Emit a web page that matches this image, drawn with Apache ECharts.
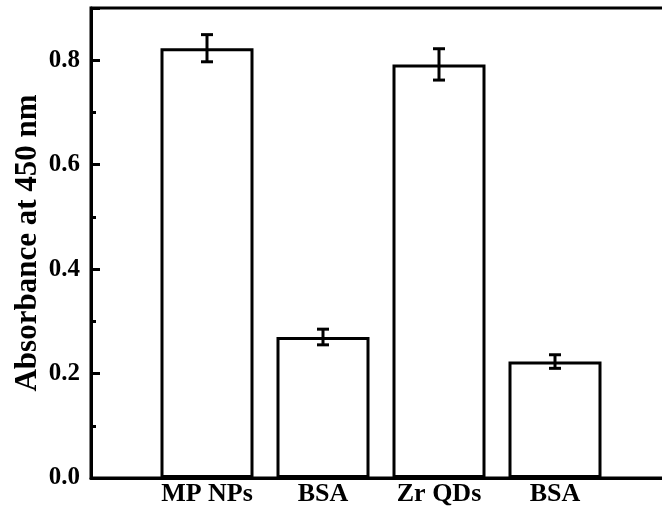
<!DOCTYPE html>
<html>
<head>
<meta charset="utf-8">
<script src="https://cdn.jsdelivr.net/npm/echarts@6/dist/echarts.min.js"></script>
<style>html,body{margin:0;padding:0;background:#fff;}#c{width:662px;height:506px;}</style>
</head>
<body>
<div id="c"></div>
<script>
var categories = ['MP NPs', 'BSA', 'Zr QDs', 'BSA'];
var values = [0.823, 0.270, 0.792, 0.223];
var errors = [0.026, 0.015, 0.030, 0.013];
var yMin = 0, yMax = 0.9, yStep = 0.2;

var axisCats = [''].concat(categories).concat(['']);
var barData = ['-'].concat(values).concat(['-']);
var errData = values.map(function (v, i) { return [i + 1, v, errors[i]]; });

var font = 'Liberation Serif';
var chart = echarts.init(document.getElementById('c'));
chart.setOption({
  animation: false,
  grid: { left: 91, top: 8, bottom: 28, right: -9, containLabel: false, outerBoundsMode: 'none',
    show: true, borderColor: '#000', borderWidth: 3, backgroundColor: 'transparent' },
  xAxis: {
    type: 'category', data: axisCats, boundaryGap: false,
    axisLine: { lineStyle: { color: '#000', width: 3 } },
    axisTick: { show: false },
    axisLabel: { color: '#000', fontFamily: font, fontWeight: 'bold', fontSize: 26, margin: 3, interval: 0 },
    splitLine: { show: false }
  },
  yAxis: {
    type: 'value', min: yMin, max: yMax, interval: yStep,
    name: 'Absorbance at 450 nm', nameLocation: 'middle', nameGap: 48, nameMoveOverlap: false,
    nameTextStyle: { color: '#000', fontFamily: font, fontWeight: 'bold', fontSize: 31 },
    axisLine: { show: true, lineStyle: { color: '#000', width: 3 } },
    axisTick: { show: true, inside: true, length: 9, lineStyle: { color: '#000', width: 3 } },
    minorTick: { show: true, splitNumber: 2, length: 5, lineStyle: { color: '#000', width: 3 } },
    axisLabel: { color: '#000', fontFamily: font, fontWeight: 'bold', fontSize: 25, margin: 11, showMaxLabel: false,
      formatter: function (v) { return v.toFixed(1); } },
    splitLine: { show: false }
  },
  series: [
    {
      type: 'bar', data: barData, barWidth: 93,
      itemStyle: { color: '#fff', borderColor: '#000', borderWidth: 3 }
    },
    {
      type: 'custom', data: errData, z: 10,
      renderItem: function (params, api) {
        var x = api.value(0), v = api.value(1), e = api.value(2);
        var top = api.coord([x, v + e]);
        var bot = api.coord([x, v - e]);
        var hw = 6;
        var st = { stroke: '#000', lineWidth: 3, fill: null };
        return { type: 'group', children: [
          { type: 'line', shape: { x1: top[0], y1: top[1], x2: bot[0], y2: bot[1] }, style: st },
          { type: 'line', shape: { x1: top[0] - hw, y1: top[1], x2: top[0] + hw, y2: top[1] }, style: st },
          { type: 'line', shape: { x1: bot[0] - hw, y1: bot[1], x2: bot[0] + hw, y2: bot[1] }, style: st }
        ] };
      }
    }
  ]
});
</script>
</body>
</html>
